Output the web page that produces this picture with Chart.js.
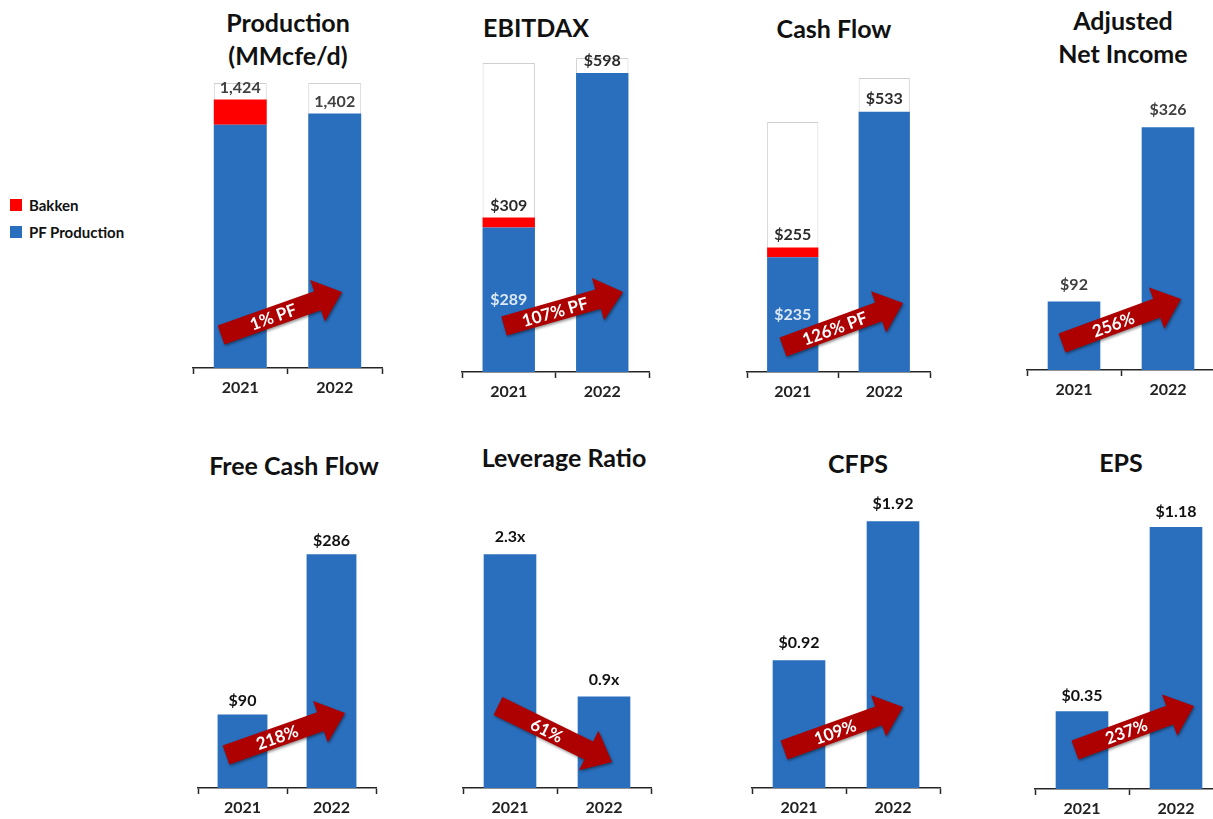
<!DOCTYPE html>
<html>
<head>
<meta charset="utf-8">
<title>2021 vs 2022 pro forma highlights</title>
<script src="https://cdn.jsdelivr.net/npm/chart.js@4/dist/chart.umd.min.js"></script>
<style>
  html, body { margin: 0; padding: 0; background: #fff; }
  body { width: 1213px; height: 819px; position: relative; overflow: hidden; font-family: Lato, "Open Sans", sans-serif; }
  canvas.panel { position: absolute; }
  .title { position: absolute; width: 300px; text-align: center; font-weight: 700; font-size: 25px; line-height: 33px; color: #111; white-space: nowrap; }
  #legend { position: absolute; left: 10px; top: 191px; font-weight: 700; font-size: 15px; color: #111; }
  #legend .item { display: flex; align-items: center; height: 27px; }
  #legend .swatch { width: 12px; height: 12px; margin-right: 7px; }
</style>
</head>
<body>
<div id="legend"></div>
<script>
// ---- data ----
const years = ['2021', '2022'];

const productionPF = [1384, 1402];
const productionBakken = [40, 0];
const productionOutline = [1450, 1450];

const ebitdaxPF = [289, 598];
const ebitdaxBakken = [20, 0];
const ebitdaxOutline = [618, 628];

const cashFlowPF = [235, 533];
const cashFlowBakken = [20, 0];
const cashFlowOutline = [512, 602];

const adjustedNetIncome = [92, 326];
const freeCashFlow = [90, 286];
const leverageRatio = [2.3, 0.9];
const cashFlowPerShare = [0.92, 1.92];
const earningsPerShare = [0.35, 1.18];

const changeLabels = ['1% PF', '107% PF', '126% PF', '256%', '218%', '61%', '109%', '237%'];

// ---- styling ----
const BLUE = '#2a6fbd';
const RED = '#ff0000';
const ARROW_RED = '#ad0000';
const FONT = 'Lato, "Open Sans", sans-serif';

const dollars = v => '$' + v;
const panels = [
  { title: ['Production', '(MMcfe/d)'], titleX: 288, titleY: 22, left: 193, width: 189, top: 40, base: 368, min: 1000, max: 1518,
    pf: productionPF, bakken: productionBakken, outline: productionOutline, fmt: v => v.toLocaleString('en-US'),
    color: '#404040', offset: 12, arrow: { tail: [28, 33], tip: [149, 76] } },
  { title: ['EBITDAX'], titleX: 536, titleY: 27, left: 462, width: 187, top: 40, base: 372, min: 0, max: 664,
    pf: ebitdaxPF, bakken: ebitdaxBakken, outline: ebitdaxOutline, fmt: dollars,
    color: '#2b2b2b', offset: 12, arrow: { tail: [42, 46], tip: [161, 80] } },
  { title: ['Cash Flow'], titleX: 834, titleY: 28, left: 747, width: 183, top: 40, base: 372, min: 0, max: 680,
    pf: cashFlowPF, bakken: cashFlowBakken, outline: cashFlowOutline, fmt: dollars,
    color: '#2b2b2b', offset: 13, arrow: { tail: [36, 25], tip: [156, 69] } },
  { title: ['Adjusted', 'Net Income'], titleX: 1123, titleY: 20, left: 1027, width: 188, top: 40, base: 370, min: 0, max: 443,
    pf: adjustedNetIncome, fmt: dollars,
    color: '#404040', offset: 17, arrow: { tail: [35, 27], tip: [154, 71] } },
  { title: ['Free Cash Flow'], titleX: 294, titleY: 465, left: 198, width: 178, top: 480, base: 788, min: 0, max: 377,
    pf: freeCashFlow, fmt: dollars,
    color: '#111', offset: 14, arrow: { tail: [28, 33], tip: [147, 75] } },
  { title: ['Leverage Ratio'], titleX: 564, titleY: 457, left: 463, width: 188, top: 480, base: 788, min: 0, max: 3.03,
    pf: leverageRatio, fmt: v => v.toFixed(1) + 'x',
    color: '#111', offset: 17, arrow: { tail: [35, 82], tip: [149, 26] } },
  { title: ['CFPS'], titleX: 858, titleY: 463, left: 752, width: 188, top: 480, base: 788, min: 0, max: 2.216,
    pf: cashFlowPerShare, fmt: v => '$' + v.toFixed(2),
    color: '#111', offset: 17, arrow: { tail: [32, 38], tip: [151, 81] } },
  { title: ['EPS'], titleX: 1121, titleY: 462, left: 1035, width: 188, top: 480, base: 789, min: 0, max: 1.392,
    pf: earningsPerShare, fmt: v => '$' + v.toFixed(2),
    color: '#111', offset: 15, arrow: { tail: [40, 39], tip: [159, 83] } }
];

const AXIS_HEIGHT = 34;  // tick length + label padding + label line height
const SIDE_PAD = 2;

// Value labels: total above each stack, PF value inside the blue bar when a Bakken slice sits on top.
const valueLabels = {
  id: 'valueLabels',
  afterDatasetsDraw(chart, args, opts) {
    const ctx = chart.ctx;
    const pfMeta = chart.getDatasetMeta(0);
    const bakkenDs = chart.data.datasets.find(d => d.role === 'bakken');
    const bakkenMeta = bakkenDs ? chart.getDatasetMeta(chart.data.datasets.indexOf(bakkenDs)) : null;
    ctx.save();
    ctx.font = '700 16px ' + FONT;
    ctx.textAlign = 'center';
    ctx.textBaseline = 'middle';
    pfMeta.data.forEach((bar, i) => {
      const pfVal = chart.data.datasets[0].data[i];
      const bkVal = bakkenDs ? bakkenDs.data[i] : 0;
      const topBar = bkVal > 0 ? bakkenMeta.data[i] : bar;
      ctx.fillStyle = opts.color;
      ctx.fillText(opts.fmt(pfVal + bkVal), topBar.x, topBar.y - opts.offset);
      if (bkVal > 0) {
        ctx.fillStyle = '#dce8f6';
        ctx.fillText(opts.fmt(pfVal), bar.x, (bar.y + bar.base) / 2);
      }
    });
    ctx.restore();
  }
};

// Change arrow, placed relative to the bottom-left corner of the plot area.
const changeArrow = {
  id: 'changeArrow',
  afterDatasetsDraw(chart, args, opts) {
    const { ctx, chartArea } = chart;
    const x0 = chartArea.left + opts.tail[0], y0 = chartArea.bottom - opts.tail[1];
    const x1 = chartArea.left + opts.tip[0], y1 = chartArea.bottom - opts.tip[1];
    const ang = Math.atan2(y1 - y0, x1 - x0);
    const len = Math.hypot(x1 - x0, y1 - y0);
    const sw = 10, hw = 22, hl = 26;
    ctx.save();
    ctx.translate(x0, y0);
    ctx.rotate(ang);
    ctx.beginPath();
    ctx.moveTo(0, -sw);
    ctx.lineTo(len - hl, -sw);
    ctx.lineTo(len - hl, -hw);
    ctx.lineTo(len, 0);
    ctx.lineTo(len - hl, hw);
    ctx.lineTo(len - hl, sw);
    ctx.lineTo(0, sw);
    ctx.closePath();
    ctx.shadowColor = 'rgba(0,0,0,0.45)';
    ctx.shadowBlur = 3;
    ctx.shadowOffsetX = 1;
    ctx.shadowOffsetY = 1.5;
    ctx.fillStyle = ARROW_RED;
    ctx.fill();
    ctx.shadowColor = 'transparent';
    ctx.fillStyle = '#ffffff';
    ctx.font = '700 17px ' + FONT;
    ctx.textAlign = 'center';
    ctx.textBaseline = 'middle';
    ctx.fillText(opts.text, (len - hl) / 2 + 4, 1);
    ctx.restore();
  }
};

function buildPanel(p, idx) {
  const t = document.createElement('div');
  t.className = 'title';
  t.style.left = (p.titleX - 150) + 'px';
  t.style.top = (p.titleY - 16.5) + 'px';
  t.innerHTML = p.title.join('<br>');
  document.body.appendChild(t);

  const canvas = document.createElement('canvas');
  canvas.className = 'panel';
  const w = p.width + SIDE_PAD * 2;
  const h = p.base - p.top + AXIS_HEIGHT;
  canvas.width = w; canvas.height = h;
  canvas.style.left = (p.left - SIDE_PAD) + 'px';
  canvas.style.top = p.top + 'px';
  canvas.style.width = w + 'px';
  canvas.style.height = h + 'px';
  document.body.appendChild(canvas);

  const barStyle = { grouped: false, categoryPercentage: 1, barPercentage: 0.56, borderWidth: 0 };
  const datasets = [
    Object.assign({ label: 'PF Production', role: 'pf', data: p.pf, backgroundColor: BLUE, stack: 'main', order: 1 }, barStyle)
  ];
  if (p.bakken) {
    datasets.push(Object.assign({ label: 'Bakken', role: 'bakken', data: p.bakken, backgroundColor: RED, stack: 'main', order: 2 }, barStyle));
  }
  if (p.outline) {
    datasets.push(Object.assign({}, barStyle, { label: 'Outline', role: 'outline', data: p.outline, backgroundColor: '#ffffff',
      borderColor: '#cfcfcf', borderWidth: 1, stack: 'outline', order: 3 }));
  }

  return new Chart(canvas, {
    type: 'bar',
    data: { labels: years, datasets },
    options: {
      responsive: false,
      animation: false,
      layout: { padding: { left: SIDE_PAD, right: SIDE_PAD, top: 0, bottom: 0 } },
      plugins: {
        legend: { display: false },
        tooltip: { enabled: false },
        title: { display: false },
        valueLabels: { fmt: p.fmt, color: p.color, offset: p.offset },
        changeArrow: { tail: p.arrow.tail, tip: p.arrow.tip, text: changeLabels[idx] }
      },
      scales: {
        x: {
          offset: true,
          border: { display: true, color: '#262626', width: 1.5 },
          grid: { offset: true, drawOnChartArea: false, drawTicks: true, tickLength: 6, tickColor: '#262626', tickWidth: 1.5 },
          ticks: { padding: 5, color: '#222', font: { family: FONT, weight: '700', size: 16, lineHeight: 1.125 } }
        },
        y: { display: false, stacked: true, min: p.min, max: p.max }
      }
    },
    plugins: [valueLabels, changeArrow]
  });
}

function buildLegend(chart) {
  const box = document.getElementById('legend');
  const items = chart.data.datasets.filter(d => d.role !== 'outline').slice().reverse();
  items.forEach(d => {
    const row = document.createElement('div');
    row.className = 'item';
    const sw = document.createElement('span');
    sw.className = 'swatch';
    sw.style.background = d.backgroundColor;
    const label = document.createElement('span');
    label.textContent = d.label;
    row.appendChild(sw);
    row.appendChild(label);
    box.appendChild(row);
  });
}

function start() {
  const charts = panels.map(buildPanel);
  buildLegend(charts[0]);
}

if (document.fonts && document.fonts.load) {
  Promise.all([document.fonts.load('700 16px Lato'), document.fonts.load('700 25px Lato')]).then(start, start);
} else {
  start();
}
</script>
</body>
</html>
